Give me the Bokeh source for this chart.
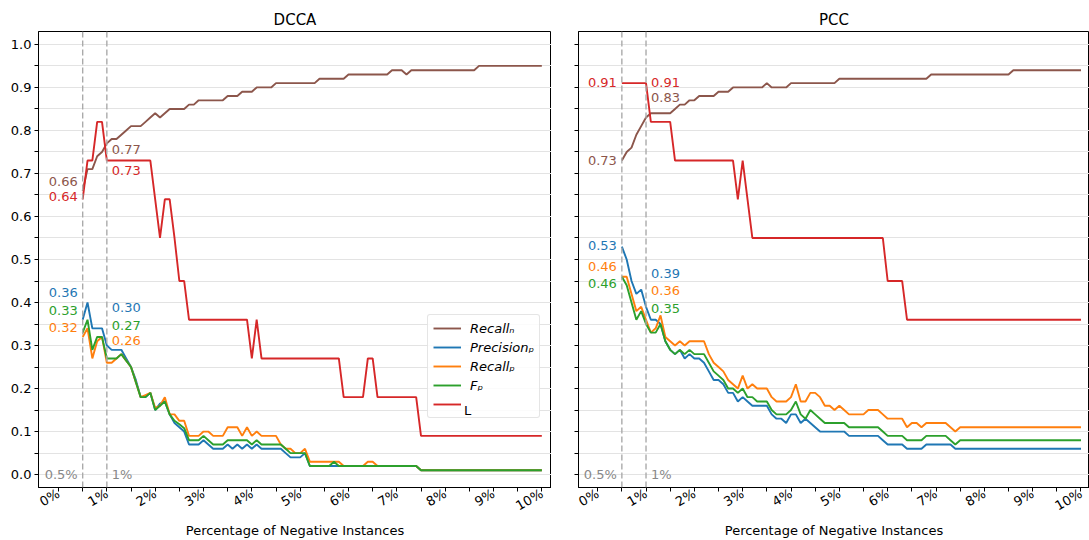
import math
from bokeh.plotting import figure
from bokeh.models import (FixedTicker, Legend, LegendItem, Span, ColumnDataSource,
                          Range1d, NumeralTickFormatter, PrintfTickFormatter,
                          CustomJSTickFormatter)
from bokeh.layouts import row
from bokeh.embed import file_html
from bokeh.resources import INLINE
from bokeh.core.properties import value

FONT = "DejaVu Sans"

# ---------------- data ----------------
x_pct = [i / 10 for i in range(5, 101)]          # 0.5% ... 10.0%
x_tick_values = list(range(0, 11))
marker_pcts = [0.5, 1.0]
marker_labels = ["0.5%", "1%"]
panel_titles = ["DCCA", "PCC"]
series_keys = ["recall_n", "precision_p", "recall_p", "f_p", "l"]
series_labels = ["Recallₙ", "Precisionₚ", "Recallₚ", "Fₚ", "L"]
x_axis_label = "Percentage of Negative Instances"

dcca_recall_n = [
    0.66, 0.71, 0.71, 0.74, 0.75, 0.77, 0.78, 0.78, 0.79, 0.80,
    0.81, 0.81, 0.81, 0.82, 0.83, 0.84, 0.83, 0.84, 0.85, 0.85,
    0.85, 0.85, 0.86, 0.86, 0.87, 0.87, 0.87, 0.87, 0.87, 0.87,
    0.88, 0.88, 0.88, 0.89, 0.89, 0.89, 0.90, 0.90, 0.90, 0.90,
    0.91, 0.91, 0.91, 0.91, 0.91, 0.91, 0.91, 0.91, 0.91, 0.92,
    0.92, 0.92, 0.92, 0.92, 0.92, 0.93, 0.93, 0.93, 0.93, 0.93,
    0.93, 0.93, 0.93, 0.93, 0.94, 0.94, 0.94, 0.93, 0.94, 0.94,
    0.94, 0.94, 0.94, 0.94, 0.94, 0.94, 0.94, 0.94, 0.94, 0.94,
    0.94, 0.94, 0.95, 0.95, 0.95, 0.95, 0.95, 0.95, 0.95, 0.95,
    0.95, 0.95, 0.95, 0.95, 0.95, 0.95,
]
dcca_precision_p = [
    0.36, 0.40, 0.34, 0.34, 0.34, 0.30, 0.29, 0.29, 0.29, 0.27,
    0.25, 0.22, 0.18, 0.18, 0.19, 0.15, 0.165, 0.17, 0.14, 0.12,
    0.11, 0.10, 0.07, 0.07, 0.07, 0.08, 0.07, 0.06, 0.06, 0.06,
    0.07, 0.06, 0.07, 0.06, 0.07, 0.06, 0.07, 0.06, 0.06, 0.06,
    0.06, 0.06, 0.05, 0.04, 0.04, 0.04, 0.05, 0.02, 0.02, 0.02,
    0.02, 0.02, 0.02, 0.02, 0.02, 0.02, 0.02, 0.02, 0.02, 0.02,
    0.02, 0.02, 0.02, 0.02, 0.02, 0.02, 0.02, 0.02, 0.02, 0.02,
    0.01, 0.01, 0.01, 0.01, 0.01, 0.01, 0.01, 0.01, 0.01, 0.01,
    0.01, 0.01, 0.01, 0.01, 0.01, 0.01, 0.01, 0.01, 0.01, 0.01,
    0.01, 0.01, 0.01, 0.01, 0.01, 0.01,
]
dcca_recall_p = [
    0.32, 0.34, 0.27, 0.31, 0.32, 0.26, 0.26, 0.27, 0.28, 0.265,
    0.25, 0.215, 0.18, 0.185, 0.19, 0.155, 0.16, 0.18, 0.14, 0.14,
    0.125, 0.125, 0.09, 0.09, 0.09, 0.10, 0.10, 0.09, 0.09, 0.09,
    0.11, 0.11, 0.11, 0.09, 0.11, 0.09, 0.10, 0.09, 0.09, 0.09,
    0.09, 0.07, 0.06, 0.06, 0.05, 0.05, 0.06, 0.03, 0.03, 0.03,
    0.03, 0.03, 0.03, 0.03, 0.02, 0.02, 0.02, 0.02, 0.02, 0.03,
    0.03, 0.02, 0.02, 0.02, 0.02, 0.02, 0.02, 0.02, 0.02, 0.02,
    0.01, 0.01, 0.01, 0.01, 0.01, 0.01, 0.01, 0.01, 0.01, 0.01,
    0.01, 0.01, 0.01, 0.01, 0.01, 0.01, 0.01, 0.01, 0.01, 0.01,
    0.01, 0.01, 0.01, 0.01, 0.01, 0.01,
]
dcca_f_p = [
    0.33, 0.36, 0.29, 0.32, 0.32, 0.27, 0.27, 0.27, 0.28, 0.265,
    0.25, 0.215, 0.18, 0.18, 0.19, 0.15, 0.16, 0.17, 0.14, 0.125,
    0.117, 0.108, 0.08, 0.08, 0.08, 0.09, 0.08, 0.07, 0.07, 0.07,
    0.08, 0.08, 0.08, 0.08, 0.08, 0.07, 0.08, 0.07, 0.07, 0.07,
    0.07, 0.07, 0.06, 0.05, 0.05, 0.05, 0.05, 0.02, 0.02, 0.02,
    0.02, 0.02, 0.03, 0.02, 0.02, 0.02, 0.02, 0.02, 0.02, 0.02,
    0.02, 0.02, 0.02, 0.02, 0.02, 0.02, 0.02, 0.02, 0.02, 0.02,
    0.01, 0.01, 0.01, 0.01, 0.01, 0.01, 0.01, 0.01, 0.01, 0.01,
    0.01, 0.01, 0.01, 0.01, 0.01, 0.01, 0.01, 0.01, 0.01, 0.01,
    0.01, 0.01, 0.01, 0.01, 0.01, 0.01,
]
dcca_l = [
    0.64, 0.73, 0.73, 0.82, 0.82, 0.73, 0.73, 0.73, 0.73, 0.73,
    0.73, 0.73, 0.73, 0.73, 0.73, 0.64, 0.55, 0.64, 0.64, 0.55,
    0.45, 0.45, 0.36, 0.36, 0.36, 0.36, 0.36, 0.36, 0.36, 0.36,
    0.36, 0.36, 0.36, 0.36, 0.36, 0.27, 0.36, 0.27, 0.27, 0.27,
    0.27, 0.27, 0.27, 0.27, 0.27, 0.27, 0.27, 0.27, 0.27, 0.27,
    0.27, 0.27, 0.27, 0.27, 0.18, 0.18, 0.18, 0.18, 0.18, 0.27,
    0.27, 0.18, 0.18, 0.18, 0.18, 0.18, 0.18, 0.18, 0.18, 0.18,
    0.09, 0.09, 0.09, 0.09, 0.09, 0.09, 0.09, 0.09, 0.09, 0.09,
    0.09, 0.09, 0.09, 0.09, 0.09, 0.09, 0.09, 0.09, 0.09, 0.09,
    0.09, 0.09, 0.09, 0.09, 0.09, 0.09,
]

pcc_recall_n = [
    0.73, 0.75, 0.76, 0.79, 0.81, 0.83, 0.84, 0.84, 0.84, 0.84,
    0.84, 0.85, 0.86, 0.86, 0.87, 0.87, 0.88, 0.88, 0.88, 0.88,
    0.89, 0.89, 0.89, 0.90, 0.90, 0.90, 0.90, 0.90, 0.90, 0.90,
    0.91, 0.90, 0.90, 0.90, 0.90, 0.91, 0.91, 0.91, 0.91, 0.91,
    0.91, 0.91, 0.91, 0.91, 0.91, 0.92, 0.92, 0.92, 0.92, 0.92,
    0.92, 0.92, 0.92, 0.92, 0.92, 0.92, 0.92, 0.92, 0.92, 0.92,
    0.92, 0.92, 0.92, 0.92, 0.93, 0.93, 0.93, 0.93, 0.93, 0.93,
    0.93, 0.93, 0.93, 0.93, 0.93, 0.93, 0.93, 0.93, 0.93, 0.93,
    0.93, 0.94, 0.94, 0.94, 0.94, 0.94, 0.94, 0.94, 0.94, 0.94,
    0.94, 0.94, 0.94, 0.94, 0.94, 0.94,
]
pcc_precision_p = [
    0.53, 0.50, 0.45, 0.42, 0.43, 0.39, 0.36, 0.36, 0.35, 0.31,
    0.29, 0.28, 0.29, 0.27, 0.28, 0.27, 0.27, 0.26, 0.24, 0.22,
    0.22, 0.21, 0.19, 0.19, 0.17, 0.18, 0.17, 0.16, 0.16, 0.16,
    0.16, 0.14, 0.13, 0.13, 0.12, 0.14, 0.14, 0.12, 0.13, 0.12,
    0.11, 0.10, 0.10, 0.10, 0.10, 0.10, 0.10, 0.09, 0.09, 0.09,
    0.09, 0.09, 0.09, 0.09, 0.08, 0.07, 0.07, 0.07, 0.07, 0.06,
    0.06, 0.06, 0.06, 0.07, 0.07, 0.07, 0.07, 0.07, 0.07, 0.06,
    0.06, 0.06, 0.06, 0.06, 0.06, 0.06, 0.06, 0.06, 0.06, 0.06,
    0.06, 0.06, 0.06, 0.06, 0.06, 0.06, 0.06, 0.06, 0.06, 0.06,
    0.06, 0.06, 0.06, 0.06, 0.06, 0.06,
]
pcc_recall_p = [
    0.46, 0.46, 0.42, 0.38, 0.39, 0.36, 0.33, 0.34, 0.37, 0.32,
    0.31, 0.30, 0.31, 0.30, 0.31, 0.31, 0.31, 0.31, 0.28, 0.26,
    0.25, 0.24, 0.22, 0.21, 0.20, 0.23, 0.20, 0.21, 0.20, 0.20,
    0.20, 0.18, 0.17, 0.17, 0.17, 0.18, 0.21, 0.17, 0.17, 0.19,
    0.19, 0.18, 0.16, 0.16, 0.15, 0.16, 0.15, 0.14, 0.14, 0.14,
    0.14, 0.15, 0.15, 0.15, 0.14, 0.13, 0.13, 0.13, 0.13, 0.11,
    0.12, 0.12, 0.11, 0.12, 0.12, 0.12, 0.12, 0.12, 0.11, 0.10,
    0.11, 0.11, 0.11, 0.11, 0.11, 0.11, 0.11, 0.11, 0.11, 0.11,
    0.11, 0.11, 0.11, 0.11, 0.11, 0.11, 0.11, 0.11, 0.11, 0.11,
    0.11, 0.11, 0.11, 0.11, 0.11, 0.11,
]
pcc_f_p = [
    0.46, 0.44, 0.40, 0.36, 0.38, 0.35, 0.33, 0.33, 0.35, 0.31,
    0.29, 0.28, 0.29, 0.28, 0.29, 0.28, 0.28, 0.28, 0.26, 0.24,
    0.23, 0.22, 0.20, 0.20, 0.19, 0.20, 0.18, 0.18, 0.17, 0.17,
    0.17, 0.15, 0.14, 0.14, 0.14, 0.15, 0.17, 0.14, 0.13, 0.15,
    0.14, 0.13, 0.12, 0.12, 0.12, 0.12, 0.12, 0.11, 0.11, 0.11,
    0.11, 0.11, 0.11, 0.11, 0.10, 0.09, 0.09, 0.09, 0.09, 0.08,
    0.08, 0.08, 0.08, 0.09, 0.09, 0.09, 0.09, 0.09, 0.08, 0.07,
    0.08, 0.08, 0.08, 0.08, 0.08, 0.08, 0.08, 0.08, 0.08, 0.08,
    0.08, 0.08, 0.08, 0.08, 0.08, 0.08, 0.08, 0.08, 0.08, 0.08,
    0.08, 0.08, 0.08, 0.08, 0.08, 0.08,
]
pcc_l = [
    0.91, 0.91, 0.91, 0.91, 0.91, 0.91, 0.82, 0.82, 0.82, 0.82,
    0.82, 0.73, 0.73, 0.73, 0.73, 0.73, 0.73, 0.73, 0.73, 0.73,
    0.73, 0.73, 0.73, 0.73, 0.64, 0.73, 0.64, 0.55, 0.55, 0.55,
    0.55, 0.55, 0.55, 0.55, 0.55, 0.55, 0.55, 0.55, 0.55, 0.55,
    0.55, 0.55, 0.55, 0.55, 0.55, 0.55, 0.55, 0.55, 0.55, 0.55,
    0.55, 0.55, 0.55, 0.55, 0.55, 0.45, 0.45, 0.45, 0.45, 0.36,
    0.36, 0.36, 0.36, 0.36, 0.36, 0.36, 0.36, 0.36, 0.36, 0.36,
    0.36, 0.36, 0.36, 0.36, 0.36, 0.36, 0.36, 0.36, 0.36, 0.36,
    0.36, 0.36, 0.36, 0.36, 0.36, 0.36, 0.36, 0.36, 0.36, 0.36,
    0.36, 0.36, 0.36, 0.36, 0.36, 0.36,
]

dcca = {"recall_n": dcca_recall_n, "precision_p": dcca_precision_p,
        "recall_p": dcca_recall_p, "f_p": dcca_f_p, "l": dcca_l}
pcc = {"recall_n": pcc_recall_n, "precision_p": pcc_precision_p,
       "recall_p": pcc_recall_p, "f_p": pcc_f_p, "l": pcc_l}
for d in (dcca, pcc):
    for k, v in d.items():
        assert len(v) == len(x_pct), (k, len(v))

# ---------------- styles ----------------
COLORS = {"recall_n": "#8c564b", "precision_p": "#1f77b4", "recall_p": "#ff7f0e",
          "f_p": "#2ca02c", "l": "#d62728"}
GRID = "#e3e3e3"
# pixel offsets of the value annotations (series, pct, y offset in px)
DCCA_ANN = [("recall_n", 0.5, -9), ("l", 0.5, -3), ("precision_p", 0.5, -27),
            ("f_p", 0.5, -22), ("recall_p", 0.5, -9),
            ("recall_n", 1.0, 6), ("l", 1.0, 10), ("precision_p", 1.0, -38),
            ("f_p", 1.0, -33), ("recall_p", 1.0, -22)]
PCC_ANN = [("l", 0.5, -1), ("recall_n", 0.5, 0), ("precision_p", 0.5, -1),
           ("recall_p", 0.5, -10), ("f_p", 0.5, 7),
           ("l", 1.0, -1), ("recall_n", 1.0, -20), ("precision_p", 1.0, -33),
           ("recall_p", 1.0, -29), ("f_p", 1.0, -16)]


def make_panel(title, data, ann, x_start, x_end, frame_w, border_left, show_ylabels, legend):
    p = figure(frame_width=frame_w, frame_height=456, output_backend="svg",
               toolbar_location=None, min_border_left=border_left, min_border_right=0,
               min_border_top=31, min_border_bottom=10,
               x_range=Range1d(x_start, x_end), y_range=Range1d(-0.03, 1.03))
    p.background_fill_color = "white"
    p.border_fill_color = "white"
    p.outline_line_color = "black"
    p.outline_line_width = 1
    p.title.text = title
    p.title.align = "center"
    p.title.text_font = FONT
    p.title.text_font_size = "15px"
    p.title.text_font_style = "normal"
    p.title.text_color = "black"
    p.title.standoff = 6

    # axes
    xt = FixedTicker(ticks=x_tick_values, minor_ticks=[v + 0.5 for v in x_tick_values[:-1]])
    yt = FixedTicker(ticks=[round(i / 10, 1) for i in range(11)],
                     minor_ticks=[round(i / 20, 2) for i in range(1, 20, 2)])
    p.xaxis.ticker = xt
    p.yaxis.ticker = yt
    p.xaxis.formatter = PrintfTickFormatter(format="%d%%")
    for ax in (p.xaxis[0], p.yaxis[0]):
        ax.major_tick_in = 0
        ax.major_tick_out = 4
        ax.minor_tick_in = 0
        ax.minor_tick_out = 4
        ax.major_tick_line_color = "black"
        ax.minor_tick_line_color = "black"
        ax.axis_line_color = "black"
        ax.major_label_text_font = FONT
        ax.major_label_text_font_size = "13px"
        ax.major_label_text_color = "black"
        ax.major_label_standoff = 3
    p.xaxis.major_label_standoff = 1
    p.xaxis.major_label_orientation = math.pi / 6
    p.xaxis.axis_label = x_axis_label
    p.xaxis.axis_label_text_font = FONT
    p.xaxis.axis_label_text_font_size = "13px"
    p.xaxis.axis_label_text_font_style = "normal"
    p.xaxis.axis_label_text_color = "black"
    p.xaxis.axis_label_standoff = 0
    if show_ylabels:
        p.yaxis.formatter = NumeralTickFormatter(format="0.0")
    else:
        p.yaxis.formatter = CustomJSTickFormatter(code="return ''")
        p.yaxis.major_label_standoff = 0

    p.xgrid.grid_line_color = None
    p.ygrid.grid_line_color = GRID
    p.ygrid.minor_grid_line_color = GRID
    p.ygrid.grid_line_width = 1.2
    p.ygrid.minor_grid_line_width = 1.2

    # reference markers
    for loc in marker_pcts:
        p.add_layout(Span(location=loc, dimension="height", line_color="#aaaaaa",
                          line_width=1.4, line_dash="6 3"))
    p.text(x=[marker_pcts[0]], y=[0], text=[marker_labels[0]], text_align="right",
           text_baseline="middle", x_offset=-5, text_color="#888888",
           text_font=value(FONT), text_font_size="13px")
    p.text(x=[marker_pcts[1]], y=[0], text=[marker_labels[1]], text_align="left",
           text_baseline="middle", x_offset=5, text_color="#888888",
           text_font=value(FONT), text_font_size="13px")

    renderers = {}
    for key in series_keys:
        renderers[key] = p.line(x_pct, data[key], line_color=COLORS[key], line_width=1.9)

    # value annotations
    for side in (0, 1):
        rows = [a for a in ann if a[1] == marker_pcts[side]]
        xs, ys, ts, cs, yo = [], [], [], [], []
        for key, pct, off in rows:
            idx = x_pct.index(pct)
            v = data[key][idx]
            xs.append(pct); ys.append(v); ts.append(f"{v:.2f}")
            cs.append(COLORS[key]); yo.append(off)
        src = ColumnDataSource(dict(x=xs, y=ys, t=ts, c=cs, yo=yo))
        p.text(x="x", y="y", text="t", text_color="c", y_offset="yo", source=src,
               x_offset=-5 if side == 0 else 5,
               text_align="right" if side == 0 else "left", text_baseline="middle",
               text_font=value(FONT), text_font_size="13px")

    if legend:
        items = [LegendItem(label=value(series_labels[i]), renderers=[renderers[k]])
                 for i, k in enumerate(series_keys[:-1])]
        items.append(LegendItem(label=value(" "), renderers=[renderers["l"]]))
        lg = Legend(items=items, location=(389, 69))
        dummy = p.line(x=[], y=[], line_alpha=0)
        lg2 = Legend(items=[LegendItem(label=value(series_labels[-1]), renderers=[dummy])],
                     location=(389, 69))
        for L in (lg, lg2):
            L.label_text_font = FONT
            L.label_text_font_size = "13px"
            L.label_text_color = "black"
            L.glyph_width = 28
            L.glyph_height = 16
            L.label_height = 16
            L.spacing = 3
            L.padding = 5
            L.margin = 0
            L.label_standoff = 9
        lg.label_text_font_style = "italic"
        lg.border_line_color = "#cccccc"
        lg.border_line_width = 1
        lg.background_fill_color = "white"
        lg.background_fill_alpha = 0.85
        lg2.label_text_font_style = "normal"
        lg2.border_line_color = None
        lg2.background_fill_alpha = 0
        if "border_radius" in Legend.properties():
            lg.border_radius = 3
        p.add_layout(lg)
        p.add_layout(lg2)
    return p


p1 = make_panel(panel_titles[0], dcca, DCCA_ANN, -0.414, 10.2, 513, 38, True, True)
p2 = make_panel(panel_titles[1], pcc, PCC_ANN, -0.397, 10.176, 511, 27, False, False)
layout = row(p1, p2)

open("out.html", "w").write(file_html(layout, INLINE))
